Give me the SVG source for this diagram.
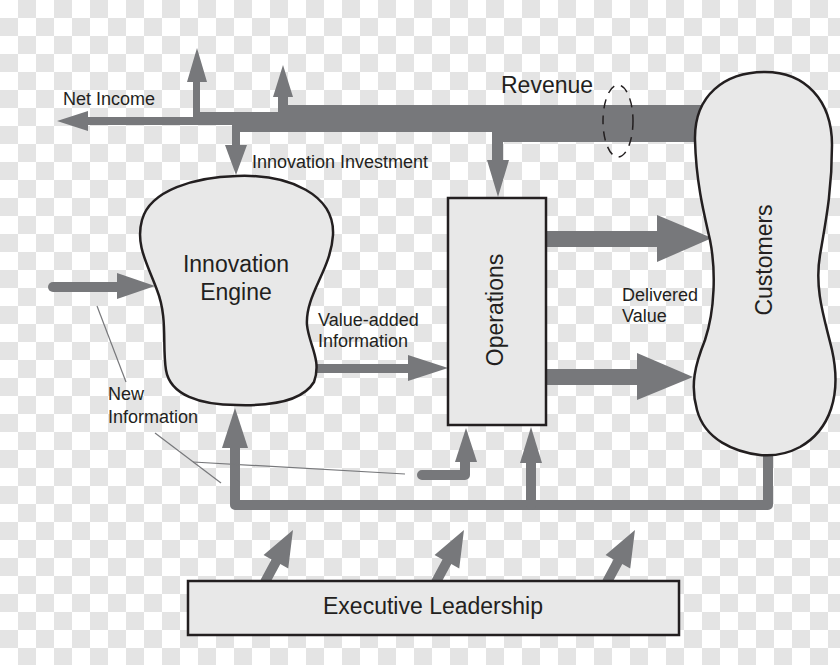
<svg xmlns="http://www.w3.org/2000/svg" width="840" height="665" viewBox="0 0 840 665">
<defs>
<pattern id="checker" x="0" y="0" width="36" height="36" patternUnits="userSpaceOnUse">
<path d="M0,0H36V36H0Z" fill="#ffffff"/>
<path d="M18,0H36V18H18ZM0,18H18V36H0Z" fill="#e4e4e4"/>
</pattern>
<style>
.flow{fill:#77787b;}
.flowline{fill:none;stroke:#77787b;stroke-width:10;stroke-linecap:round;stroke-linejoin:round;}
.node{fill:#e8e8e8;stroke:#231f20;stroke-width:2.5;}
.big{font-family:"Liberation Sans",Arial,sans-serif;font-size:23px;fill:#231f20;}
.lbl{font-family:"Liberation Sans",Arial,sans-serif;font-size:18px;fill:#231f20;}
.thin{fill:none;stroke:#77787b;stroke-width:1.2;}
</style>
</defs>
<rect x="0" y="0" width="840" height="665" style="fill:url(#checker)"/>

<g id="connectors">
  <polygon class="flow" points="57,121 88,111 88,117 193,117 193,82 187,82 197,48 207,82 200,82 200,112 278,112 278,97 273,97 283,65 293,97 288,97 288,105 705,105 705,142 503,142 503,160 509,160 498,197 487,160 492,160 492,132 240,132 240,145 247,145 236,175 225,145 232,145 232,125 88,125 88,131"/>
  <path class="flowline" d="M53,287 H122"/>
  <polygon class="flow" points="117,273 155,286 117,299"/>
  <rect class="flow" x="310" y="364" width="100" height="9"/>
  <polygon class="flow" points="408,355 448,368 408,381"/>
  <rect class="flow" x="546" y="231" width="114" height="16"/>
  <polygon class="flow" points="657,215 712,238 657,262"/>
  <rect class="flow" x="546" y="369" width="94" height="16"/>
  <polygon class="flow" points="637,353 693,377 637,400"/>
  <path class="flowline" stroke-linecap="butt" d="M768,452 V505 H235 V445"/>
  <polygon class="flow" points="222,448 235,408 248,448"/>
  <path class="flowline" stroke-linecap="butt" d="M531,505 V460"/>
  <polygon class="flow" points="520,463 531,427 542,463"/>
  <path class="flowline" d="M422,475 H465 V458"/>
  <polygon class="flow" points="455,462 466,428 477,462"/>
  <polygon class="flow" transform="translate(265,582) rotate(-61.7)" points="0,-5 23,-5 23,-14 59,0 23,14 23,5 0,5"/>
  <polygon class="flow" transform="translate(436,582) rotate(-61.7)" points="0,-5 23,-5 23,-14 59,0 23,14 23,5 0,5"/>
  <polygon class="flow" transform="translate(607,582) rotate(-61.7)" points="0,-5 23,-5 23,-14 59,0 23,14 23,5 0,5"/>
  <line class="thin" x1="97" y1="306" x2="126" y2="382"/>
  <line class="thin" x1="155" y1="433" x2="221" y2="483"/>
  <line class="thin" x1="193" y1="462" x2="405" y2="474"/>
  <ellipse cx="618" cy="121" rx="15" ry="36" fill="none" stroke="#231f20" stroke-width="1.5" stroke-dasharray="9,7"/>
</g>

<g id="labels">
  <text class="lbl" x="63" y="105">Net Income</text>
  <text class="lbl" x="252" y="168">Innovation Investment</text>
  <text class="big" x="501" y="93" font-size="21">Revenue</text>
  <text class="lbl" x="318" y="326">Value-added</text>
  <text class="lbl" x="318" y="347">Information</text>
  <text class="lbl" x="108" y="400">New</text>
  <text class="lbl" x="108" y="423">Information</text>
  <text class="lbl" x="622" y="301">Delivered</text>
  <text class="lbl" x="622" y="322">Value</text>
</g>

<g id="innovation-engine">
  <path class="node" d="M237,176 C290,174 335,195 333,235 C331,270 305,295 307,325 C309,345 322,360 314,382 C302,402 270,406 237,405 C200,405 170,395 166,370 C162,345 168,318 157,290 C148,265 135,245 142,220 C150,190 195,177 237,176 Z"/>
  <text class="big" x="236" y="272" text-anchor="middle">Innovation</text>
  <text class="big" x="236" y="300" text-anchor="middle">Engine</text>
</g>

<g id="operations">
  <rect class="node" x="448" y="198" width="98" height="227"/>
  <text class="big" transform="translate(503,310) rotate(-90)" text-anchor="middle">Operations</text>
</g>

<g id="customers">
  <path class="node" d="M765,72 C805,72 832,100 832,145 C832,190 826,220 820,255 C814,290 825,320 832,350 C842,395 830,430 800,447 C785,455 770,456 760,455 C735,452 705,440 697,410 C690,385 695,365 705,340 C715,310 716,270 710,240 C703,210 696,180 695,140 C694,95 725,72 765,72 Z"/>
  <text class="big" transform="translate(772,260) rotate(-90)" text-anchor="middle">Customers</text>
</g>

<g id="executive-leadership">
  <rect class="node" x="188" y="581" width="491" height="54"/>
  <text class="big" x="433" y="614" text-anchor="middle">Executive Leadership</text>
</g>
</svg>
